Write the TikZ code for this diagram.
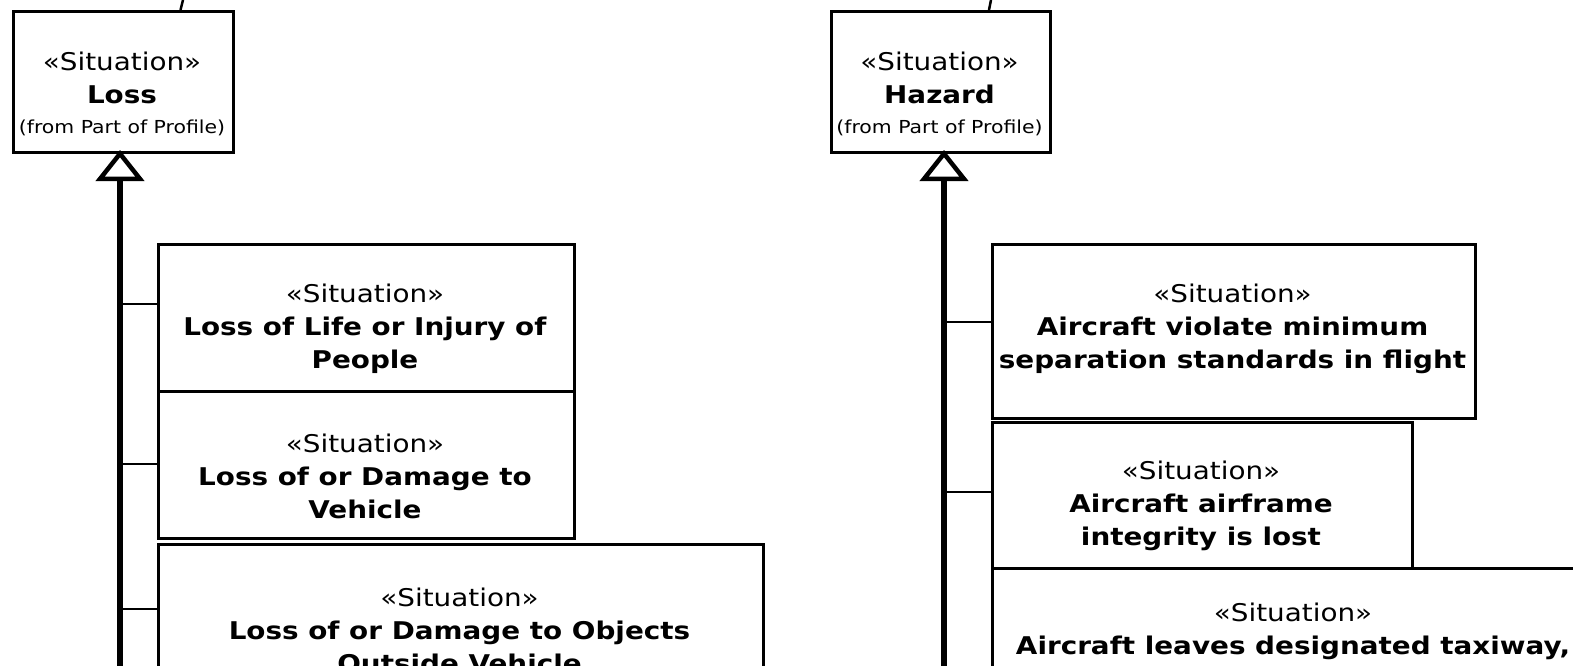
\documentclass[tikz,border=0pt]{standalone}
\usepackage{fontspec}
\setmainfont{DejaVu Sans}[FakeStretch=1.14]
\usetikzlibrary{arrows.meta}
\tikzset{
  box/.style={draw=black, line width=3pt, fill=white, rectangle, inner sep=0pt, anchor=north west},
  txt/.style={align=center, inner sep=0pt, font=\fontsize{24.4}{33}\selectfont, text=black},
  conn/.style={draw=black, line width=2.5pt},
  trunk/.style={draw=black, line width=5.5pt},
  gen/.style={-{Triangle[open,length=31pt,width=48pt,line width=4.5pt]}},
}
\newcommand{\st}{«Situation»}
\newcommand{\fromtxt}{{\fontsize{17.9}{24}\selectfont (from Part of Profile)}}
\begin{document}
\begin{tikzpicture}[x=1pt,y=-1pt]
\useasboundingbox (0,0) rectangle (1573,666);
\clip (0,0) rectangle (1573,666);
% parents
\node[box, minimum width=220pt, minimum height=141pt] (loss) at (12,10) {};
\node[txt] (losst) at (122,94) {\st\\\textbf{Loss}\\[-3pt]\fromtxt};
\node[box, minimum width=219pt, minimum height=141pt] (haz) at (830,10) {};
\node[txt] (hazt) at (939.5,94) {\st\\\textbf{Hazard}\\[-3pt]\fromtxt};
% top stubs
\coordinate (topL) at (183,0);
\coordinate (topR) at (991,0);
\draw[conn] ([xshift=57pt]loss.north) -- (topL);
\draw[conn] ([xshift=48pt]haz.north) -- (topR);
% left children
\node[box, minimum width=416pt, minimum height=147pt] (l1) at (157,243) {};
\node[txt] at (365,329) {\st\\\textbf{Loss of Life or Injury of}\\\textbf{People}};
\node[box, minimum width=416pt, minimum height=147pt] (l2) at (157,390) {};
\node[txt] at (365,476) {\st\\\textbf{Loss of or Damage to}\\\textbf{Vehicle}};
\node[box, minimum width=605pt, minimum height=160pt] (l3) at (157,543) {};
\node[txt] at (459.5,630) {\st\\\textbf{Loss of or Damage to Objects}\\\textbf{Outside Vehicle}};
% right children
\node[box, minimum width=483pt, minimum height=174pt] (r1) at (991,243) {};
\node[txt] at (1232.5,329) {\st\\\textbf{Aircraft violate minimum}\\\textbf{separation standards in flight}};
\node[box, minimum width=420pt, minimum height=147pt] (r2) at (991,421) {};
\node[txt] at (1201,506) {\st\\\textbf{Aircraft airframe}\\\textbf{integrity is lost}};
\node[box, minimum width=604pt, minimum height=160pt] (r3) at (991,567) {};
\node[txt, anchor=north] at (1293,603) {\st\\\textbf{Aircraft leaves designated taxiway,}};
% trunks
\coordinate (lbot) at (120,666);
\coordinate (rbot) at (944,666);
\draw[trunk, gen] (lbot) -- ([yshift=4pt]lbot |- loss.south);
\draw[trunk, gen] (rbot) -- ([yshift=4pt]rbot |- haz.south);
% connectors
\draw[conn] (l1.north west) ++(0,61) coordinate (a1) -- (a1 -| lbot);
\draw[conn] (l2.north west) ++(0,74) coordinate (a2) -- (a2 -| lbot);
\draw[conn] (l3.north west) ++(0,66) coordinate (a3) -- (a3 -| lbot);
\draw[conn] (r1.north west) ++(0,79) coordinate (b1) -- (b1 -| rbot);
\draw[conn] (r2.north west) ++(0,71) coordinate (b2) -- (b2 -| rbot);
\end{tikzpicture}
\end{document}
